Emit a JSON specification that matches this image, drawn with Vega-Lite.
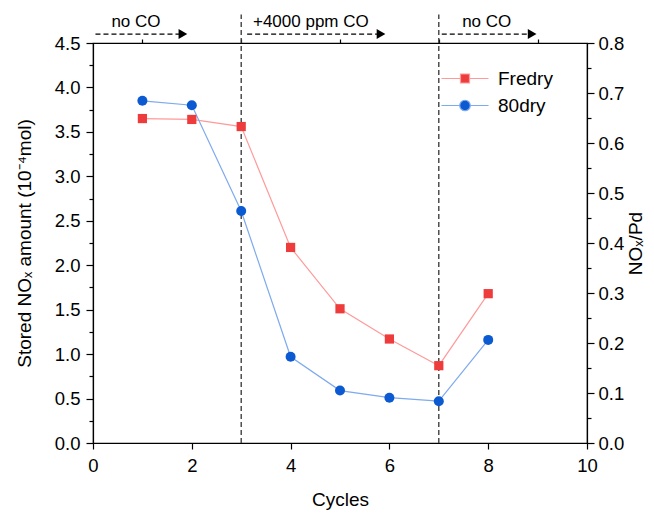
{
  "$schema": "https://vega.github.io/schema/vega-lite/v6.json",
  "width": 494,
  "height": 400,
  "autosize": {"type": "none"},
  "padding": {"left": 93, "top": 43, "right": 67, "bottom": 70},
  "background": "white",
  "config": {
    "view": {"stroke": "black", "strokeWidth": 1.2},
    "font": "Liberation Sans",
    "axis": {
      "domainColor": "black", "tickColor": "black", "labelColor": "black", "titleColor": "black",
      "labelFont": "Liberation Sans", "titleFont": "Liberation Sans",
      "labelFontSize": 18.5, "titleFontSize": 19, "titleFontWeight": "normal",
      "grid": false, "domainWidth": 1.2, "tickWidth": 1.2, "labelFlush": false
    }
  },
  "datasets": {
    "nox": [
      {"cycle": 1, "series": "Fredry", "stored": 3.65},
      {"cycle": 2, "series": "Fredry", "stored": 3.64},
      {"cycle": 3, "series": "Fredry", "stored": 3.56},
      {"cycle": 4, "series": "Fredry", "stored": 2.20},
      {"cycle": 5, "series": "Fredry", "stored": 1.51},
      {"cycle": 6, "series": "Fredry", "stored": 1.17},
      {"cycle": 7, "series": "Fredry", "stored": 0.87},
      {"cycle": 8, "series": "Fredry", "stored": 1.68},
      {"cycle": 1, "series": "80dry", "stored": 3.85},
      {"cycle": 2, "series": "80dry", "stored": 3.80},
      {"cycle": 3, "series": "80dry", "stored": 2.61},
      {"cycle": 4, "series": "80dry", "stored": 0.97},
      {"cycle": 5, "series": "80dry", "stored": 0.59},
      {"cycle": 6, "series": "80dry", "stored": 0.51},
      {"cycle": 7, "series": "80dry", "stored": 0.47},
      {"cycle": 8, "series": "80dry", "stored": 1.16}
    ],
    "phases": [
      {"start": 0.05, "end": 1.82, "label": "no CO", "labelx": 0.87},
      {"start": 3.12, "end": 5.83, "label": "+4000 ppm CO", "labelx": 4.41},
      {"start": 7.06, "end": 8.89, "label": "no CO", "labelx": 7.97}
    ],
    "switches": [
      {"cycle": 3, "low": 0, "high": 4.82},
      {"cycle": 7, "low": 0, "high": 4.82}
    ]
  },
  "resolve": {"scale": {"y": "independent"}, "axis": {"x": "independent"}},
  "layer": [
    {
      "encoding": {
        "x": {"field": "cycle", "type": "quantitative", "scale": {"domain": [0, 10], "nice": false, "padding": 0, "zero": false},
              "axis": {"title": "Cycles", "values": [0, 2, 4, 6, 8, 10], "tickSize": 6, "labelPadding": 7, "titlePadding": 16, "domain": true}}
      },
      "layer": [
        {
          "data": {"name": "switches"},
          "mark": {"type": "rule", "color": "#333333", "strokeDash": [5, 3], "strokeWidth": 1.3, "clip": false},
          "encoding": {
            "x": {"field": "cycle", "type": "quantitative"},
            "y": {"field": "low", "type": "quantitative", "scale": {"domain": [0, 4.5], "nice": false, "padding": 0, "zero": false}},
            "y2": {"field": "high"}
          }
        },
        {
          "data": {"name": "phases"},
          "mark": {"type": "rule", "color": "black", "strokeDash": [5, 3], "strokeWidth": 1.3, "clip": false},
          "encoding": {
            "x": {"field": "start", "type": "quantitative"},
            "x2": {"field": "end"},
            "y": {"datum": 4.6, "type": "quantitative"}
          }
        },
        {
          "data": {"name": "phases"},
          "mark": {"type": "point", "shape": "triangle-right", "filled": true, "color": "black", "opacity": 1, "size": 100, "clip": false},
          "encoding": {
            "x": {"field": "end", "type": "quantitative"},
            "y": {"datum": 4.6, "type": "quantitative"}
          }
        },
        {
          "data": {"name": "phases"},
          "mark": {"type": "text", "fontSize": 17, "color": "black", "font": "Liberation Sans", "baseline": "alphabetic", "clip": false},
          "encoding": {
            "x": {"field": "labelx", "type": "quantitative"},
            "y": {"datum": 4.68, "type": "quantitative"},
            "text": {"field": "label"}
          }
        },
        {
          "data": {"name": "nox"},
          "transform": [{"filter": "datum.series === 'Fredry'"}],
          "mark": {"type": "line", "color": "#ff9a9a", "strokeWidth": 1.2},
          "encoding": {"y": {"field": "stored", "type": "quantitative"}}
        },
        {
          "data": {"name": "nox"},
          "transform": [{"filter": "datum.series === '80dry'"}],
          "mark": {"type": "line", "color": "#7eaaee", "strokeWidth": 1.2},
          "encoding": {"y": {"field": "stored", "type": "quantitative"}}
        },
        {
          "data": {"name": "nox"},
          "transform": [{"filter": "datum.series === 'Fredry'"}],
          "mark": {"type": "point", "shape": "square", "filled": true, "color": "#ee3b3b", "opacity": 1, "size": 85},
          "encoding": {"y": {"field": "stored", "type": "quantitative"}}
        },
        {
          "data": {"name": "nox"},
          "transform": [{"filter": "datum.series === '80dry'"}],
          "mark": {"type": "point", "shape": "circle", "filled": true, "color": "#0b5ad2", "opacity": 1, "size": 100},
          "encoding": {"y": {"field": "stored", "type": "quantitative",
            "axis": {"title": "Stored NOₓ amount (10⁻⁴mol)", "values": [0, 0.5, 1, 1.5, 2, 2.5, 3, 3.5, 4, 4.5], "format": ".1f", "tickSize": 7, "labelPadding": 6, "titlePadding": 20}}}
        },
        {
          "data": {"name": "nox"},
          "transform": [{"filter": "false"}],
          "mark": {"type": "point", "filled": true, "opacity": 1, "size": 100},
          "encoding": {
            "y": {"field": "stored", "type": "quantitative"},
            "fill": {"field": "series", "type": "nominal",
              "scale": {"domain": ["Fredry", "80dry"], "range": ["#ee3b3b", "#0b5ad2"]},
              "legend": {"title": null, "orient": "none", "legendX": 362.5, "legendY": 26, "padding": 0,
                "labelFontSize": 19, "labelFont": "Liberation Sans", "labelColor": "black", "labelOffset": 23.5, "rowPadding": 7, "symbolSize": 100, "symbolStrokeWidth": 1.2}},
            "stroke": {"field": "series", "type": "nominal",
              "scale": {"domain": ["Fredry", "80dry"], "range": ["#ff9a9a", "#7eaaee"]}},
            "shape": {"field": "series", "type": "nominal",
              "scale": {"domain": ["Fredry", "80dry"], "range": [
                "M-4.7,0H-1M1,0H4.7M-0.9,-0.9H0.9V0.9H-0.9Z",
                "M-4.7,0H-1.05M1.05,0H4.7M-1.05,0A1.05,1.05 0 1,0 1.05,0A1.05,1.05 0 1,0 -1.05,0Z"]}}
          }
        }
      ]
    },
    {
      "data": {"name": "nox"},
      "transform": [{"filter": "false"}],
      "mark": {"type": "point"},
      "encoding": {
        "x": {"field": "cycle", "type": "quantitative",
              "axis": {"values": [1, 3, 5, 7, 9], "labels": false, "title": null, "tickSize": 4, "domain": false}},
        "y": {"field": "stored", "type": "quantitative", "scale": {"domain": [0, 4.5], "nice": false, "padding": 0, "zero": false},
              "axis": {"orient": "left", "values": [0.25, 0.75, 1.25, 1.75, 2.25, 2.75, 3.25, 3.75, 4.25], "labels": false, "title": null, "tickSize": 4, "domain": false}}
      }
    },
    {
      "data": {"name": "nox"},
      "transform": [{"filter": "false"}],
      "mark": {"type": "point"},
      "encoding": {
        "x": {"field": "cycle", "type": "quantitative", "axis": null},
        "y": {"field": "stored", "type": "quantitative", "scale": {"domain": [0, 0.8], "nice": false, "padding": 0, "zero": false},
              "axis": {"orient": "right", "title": "NOₓ/Pd", "titleAngle": -90, "values": [0, 0.1, 0.2, 0.3, 0.4, 0.5, 0.6, 0.7, 0.8], "format": ".1f", "tickSize": 7, "labelPadding": 4, "titlePadding": 22}}
      }
    },
    {
      "data": {"name": "nox"},
      "transform": [{"filter": "false"}],
      "mark": {"type": "point"},
      "encoding": {
        "x": {"field": "cycle", "type": "quantitative", "axis": null},
        "y": {"field": "stored", "type": "quantitative", "scale": {"domain": [0, 0.8], "nice": false, "padding": 0, "zero": false},
              "axis": {"orient": "right", "values": [0.05, 0.15, 0.25, 0.35, 0.45, 0.55, 0.65, 0.75], "labels": false, "title": null, "tickSize": 4, "domain": false}}
      }
    }
  ]
}
